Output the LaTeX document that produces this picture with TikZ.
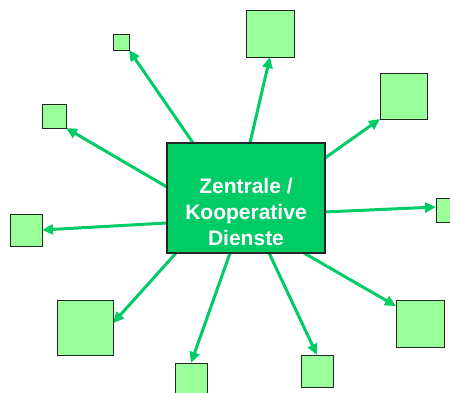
\documentclass[tikz,border=0pt]{standalone}
\usepackage{fontspec}
\setmainfont{Liberation Sans}
\usetikzlibrary{calc,arrows.meta,shadows,backgrounds}
\definecolor{hubgreen}{HTML}{00CC66}
\definecolor{boxgreen}{HTML}{99FF99}
\tikzset{
  hubbox/.style={draw=black!85, line width=1.3pt, fill=hubgreen, inner sep=0pt, outer sep=0pt,
    minimum width=158pt, minimum height=110pt},
  leaf/.style={draw=black!85, line width=1pt, fill=boxgreen, inner sep=0pt, outer sep=0pt,
    drop shadow={shadow xshift=1pt, shadow yshift=-1pt, fill=black!40, opacity=1}},
  link/.style={draw=hubgreen, line width=3pt, -{Triangle[length=11pt,width=10pt]}},
  hublabel/.style={text=white, font=\bfseries\fontsize{21pt}{26pt}\selectfont, align=center}
}
\begin{document}
\begin{tikzpicture}[x=1pt,y=-1pt]
\useasboundingbox (0,0) rectangle (450,392);
\clip (0,0) rectangle (450,392);

% central box
\node[hubbox] (hub) at (246,198) {};
\node[hublabel] (hubtext) at (246,212) {Zentrale /\\Kooperative\\Dienste};

% surrounding boxes
\node[leaf, minimum width=16pt, minimum height=16pt] (s1) at (121,42) {};
\node[leaf, minimum width=48pt, minimum height=47pt] (s2) at (270,33.5) {};
\node[leaf, minimum width=47pt, minimum height=46pt] (s3) at (403.5,96) {};
\node[leaf, minimum width=24pt, minimum height=24pt] (s4) at (448,210) {};
\node[leaf, minimum width=48pt, minimum height=47pt] (s5) at (420,323.5) {};
\node[leaf, minimum width=32pt, minimum height=32pt] (s6) at (317,371) {};
\node[leaf, minimum width=32pt, minimum height=32pt] (s7) at (191,379) {};
\node[leaf, minimum width=56pt, minimum height=55pt] (s8) at (85,327.5) {};
\node[leaf, minimum width=32pt, minimum height=32pt] (s9) at (26,230) {};
\node[leaf, minimum width=24pt, minimum height=24pt] (s10) at (54,116) {};

% connectors from the central box, kept behind the boxes
\begin{pgfonlayer}{background}
\draw[link] ($(hub.north west)!0.165!(hub.north east)$) -- (s1.south east);
\draw[link] ($(hub.north west)!0.525!(hub.north east)$) -- (s2.south);
\draw[link] ($(hub.north east)!0.136!(hub.south east)$) -- (s3.south west);
\draw[link] ($(hub.north east)!0.627!(hub.south east)$) -- ($(s4.north west)!0.375!(s4.south west)$);
\draw[link] ($(hub.south west)!0.867!(hub.south east)$) -- ($(s5.north west)!0.13!(s5.south west)$);
\draw[link] ($(hub.south west)!0.646!(hub.south east)$) -- (s6.north);
\draw[link] ($(hub.south west)!0.399!(hub.south east)$) -- (s7.north);
\draw[link] ($(hub.south west)!0.057!(hub.south east)$) -- ($(s8.north east)!0.42!(s8.south east)$);
\draw[link] ($(hub.north west)!0.727!(hub.south west)$) -- (s9.east);
\draw[link] ($(hub.north west)!0.4!(hub.south west)$) -- (s10.south east);
\end{pgfonlayer}
\end{tikzpicture}
\end{document}
